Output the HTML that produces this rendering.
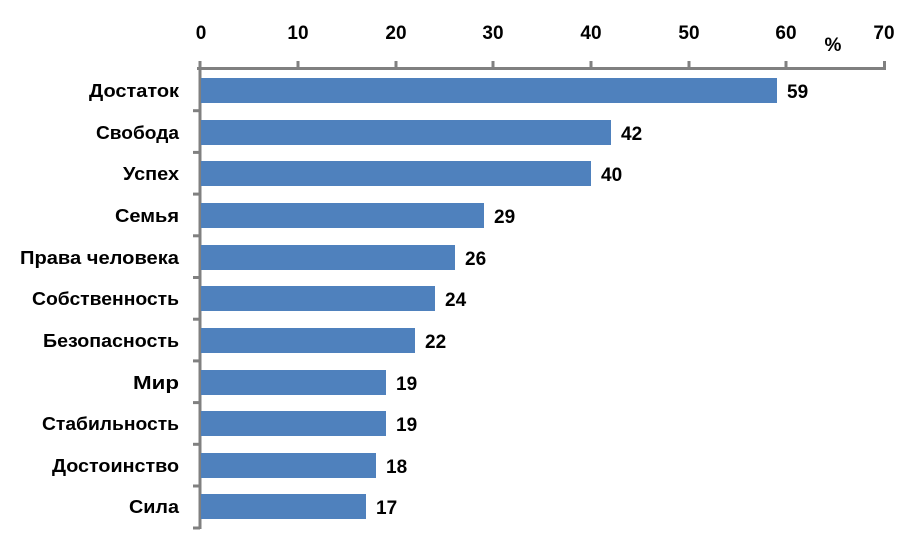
<!DOCTYPE html>
<html><head><meta charset="utf-8"><style>
html,body{margin:0;padding:0;background:#fff;}
svg{display:block;}
text{font-family:"Liberation Sans",sans-serif;font-weight:bold;fill:#000;}
</style></head><body>
<svg width="917" height="548" viewBox="0 0 917 548" xmlns="http://www.w3.org/2000/svg">
<g stroke="#808080" stroke-width="3" fill="none">
<line x1="197" y1="68.5" x2="886" y2="68.5"/>
<line x1="200" y1="61" x2="200" y2="529"/>
<line x1="298" y1="61" x2="298" y2="69"/>
<line x1="396" y1="61" x2="396" y2="69"/>
<line x1="493" y1="61" x2="493" y2="69"/>
<line x1="591" y1="61" x2="591" y2="69"/>
<line x1="689" y1="61" x2="689" y2="69"/>
<line x1="786" y1="61" x2="786" y2="69"/>
<line x1="884.5" y1="61" x2="884.5" y2="69"/>
<line x1="193" y1="110.7" x2="200" y2="110.7"/>
<line x1="193" y1="152.4" x2="200" y2="152.4"/>
<line x1="193" y1="194.1" x2="200" y2="194.1"/>
<line x1="193" y1="235.8" x2="200" y2="235.8"/>
<line x1="193" y1="277.5" x2="200" y2="277.5"/>
<line x1="193" y1="319.2" x2="200" y2="319.2"/>
<line x1="193" y1="360.9" x2="200" y2="360.9"/>
<line x1="193" y1="402.6" x2="200" y2="402.6"/>
<line x1="193" y1="444.3" x2="200" y2="444.3"/>
<line x1="193" y1="486" x2="200" y2="486"/>
<line x1="193" y1="528" x2="200" y2="528"/>
</g>
<g font-size="19" text-anchor="middle">
<text x="201" y="39">0</text><text x="298" y="39">10</text><text x="396" y="39">20</text>
<text x="493" y="39">30</text><text x="591" y="39">40</text><text x="689" y="39">50</text>
<text x="786" y="39">60</text><text x="884" y="39">70</text>
<text x="833" y="51">%</text>
</g>
<g fill="#4f81bd">
<rect x="201" y="78" width="576" height="25"/>
<rect x="201" y="120" width="410" height="25"/>
<rect x="201" y="161" width="390" height="25"/>
<rect x="201" y="203" width="283" height="25"/>
<rect x="201" y="245" width="254" height="25"/>
<rect x="201" y="286" width="234" height="25"/>
<rect x="201" y="328" width="214" height="25"/>
<rect x="201" y="370" width="185" height="25"/>
<rect x="201" y="411" width="185" height="25"/>
<rect x="201" y="453" width="175" height="25"/>
<rect x="201" y="494" width="165" height="25"/>
</g>
<g font-size="19">
<text x="787" y="98">59</text><text x="621" y="140">42</text><text x="601" y="181">40</text>
<text x="494" y="223">29</text><text x="465" y="265">26</text><text x="445" y="306">24</text>
<text x="425" y="348">22</text><text x="396" y="390">19</text><text x="396" y="431">19</text>
<text x="386" y="473">18</text><text x="376" y="514">17</text>
</g>
<g font-size="18" text-anchor="end">
<text x="179" y="97" textLength="90" lengthAdjust="spacingAndGlyphs">Достаток</text>
<text x="179" y="139" textLength="83" lengthAdjust="spacingAndGlyphs">Свобода</text>
<text x="179" y="180" textLength="56" lengthAdjust="spacingAndGlyphs">Успех</text>
<text x="179" y="222" textLength="64" lengthAdjust="spacingAndGlyphs">Семья</text>
<text x="179" y="264" textLength="159" lengthAdjust="spacingAndGlyphs">Права человека</text>
<text x="179" y="305" textLength="147" lengthAdjust="spacingAndGlyphs">Собственность</text>
<text x="179" y="347" textLength="136" lengthAdjust="spacingAndGlyphs">Безопасность</text>
<text x="179" y="389" textLength="46" lengthAdjust="spacingAndGlyphs">Мир</text>
<text x="179" y="430" textLength="137" lengthAdjust="spacingAndGlyphs">Стабильность</text>
<text x="179" y="472" textLength="127" lengthAdjust="spacingAndGlyphs">Достоинство</text>
<text x="179" y="513" textLength="50" lengthAdjust="spacingAndGlyphs">Сила</text>
</g>
</svg>
</body></html>
